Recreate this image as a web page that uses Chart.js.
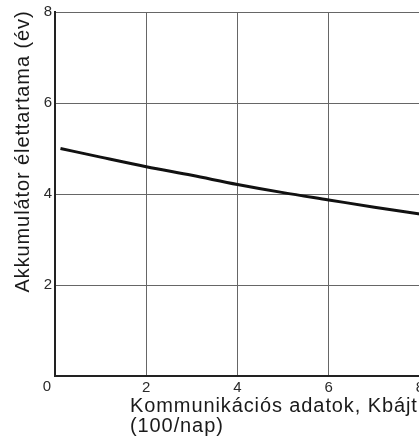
<!DOCTYPE html>
<html>
<head>
<meta charset="utf-8">
<script src="https://cdn.jsdelivr.net/npm/chart.js@4"></script>
<style>
  html, body { margin: 0; padding: 0; background: #fff; overflow: hidden; }
  #wrap { width: 421px; height: 439px; }
</style>
</head>
<body>
<div id="wrap"><canvas id="lifeChart" width="421" height="439"></canvas></div>
<script>
// adatok
const dataKbytes = [0.12, 1, 2, 3, 4, 5, 6, 7, 8];
const lifeYears = [5.0, 4.81, 4.6, 4.41, 4.21, 4.03, 3.87, 3.71, 3.56];
const xTicks = [0, 2, 4, 6, 8];
const yTicks = [0, 2, 4, 6, 8];
const yTitle = "Akkumulátor élettartama (év)";
const xTitle = ["Kommunikációs adatok, Kbájt", "(100/nap)"];

const FONT = "'Liberation Sans', Arial, sans-serif";

// tengelyfeliratok kézzel, a referenciához igazítva
const axisText = {
  id: "axisText",
  afterDraw(chart) {
    const c = chart.ctx;
    const area = chart.chartArea;
    c.save();
    c.fillStyle = "#2a2a2a";
    c.font = "15px " + FONT;
    c.textAlign = "center";
    c.textBaseline = "middle";
    c.fillText("0", area.left - 8, area.bottom + 11);

    c.fillStyle = "#1a1a1a";
    c.font = "20px " + FONT;
    c.letterSpacing = "0.9px";
    c.textAlign = "left";
    c.textBaseline = "alphabetic";
    c.fillText(xTitle[0], 130, 412);
    c.fillText(xTitle[1], 130, 432);

    c.translate(28.5, 292.5);
    c.rotate(-Math.PI / 2);
    c.fillText(yTitle, 0, 0);
    c.restore();
  },
};

document.addEventListener("DOMContentLoaded", () => {
  const ctx = document.getElementById("lifeChart");

  const data = {
    datasets: [
      {
        data: dataKbytes.map((x, i) => ({ x: x, y: lifeYears[i] })),
        borderColor: "#111",
        borderWidth: 3,
        pointRadius: 0,
        fill: false,
        tension: 0.3,
        cubicInterpolationMode: "monotone",
      },
    ],
  };

  const config = {
    type: "line",
    data: data,
    options: {
      responsive: false,
      animation: false,
      layout: { padding: { top: 12, right: 1, left: 0, bottom: 0 } },
      plugins: {
        legend: { display: false },
        tooltip: { enabled: false },
      },
      scales: {
        x: {
          type: "linear",
          min: 0,
          max: 8,
          afterBuildTicks: (scale) => {
            scale.ticks = xTicks.map((v) => ({ value: v }));
          },
          ticks: {
            color: "#2a2a2a",
            font: { family: FONT, size: 15 },
            padding: 3,
            callback: (v) => (v === 0 ? "" : v),
          },
          grid: { color: "#666", lineWidth: 1, drawTicks: false },
          border: { color: "#222", width: 2 },
          afterFit: (scale) => {
            scale.height = 63;
            scale.paddingLeft = 0;
            scale.paddingRight = 0;
          },
        },
        y: {
          min: 0,
          max: 8,
          afterBuildTicks: (scale) => {
            scale.ticks = yTicks.map((v) => ({ value: v }));
          },
          ticks: {
            color: "#2a2a2a",
            font: { family: FONT, size: 15 },
            padding: 3,
            callback: (v) => (v === 0 ? "" : v),
          },
          grid: { color: "#666", lineWidth: 1, drawTicks: false },
          border: { color: "#222", width: 2 },
          afterFit: (scale) => {
            scale.width = 55;
          },
        },
      },
    },
    plugins: [axisText],
  };

  new Chart(ctx, config);
});
</script>
</body>
</html>
